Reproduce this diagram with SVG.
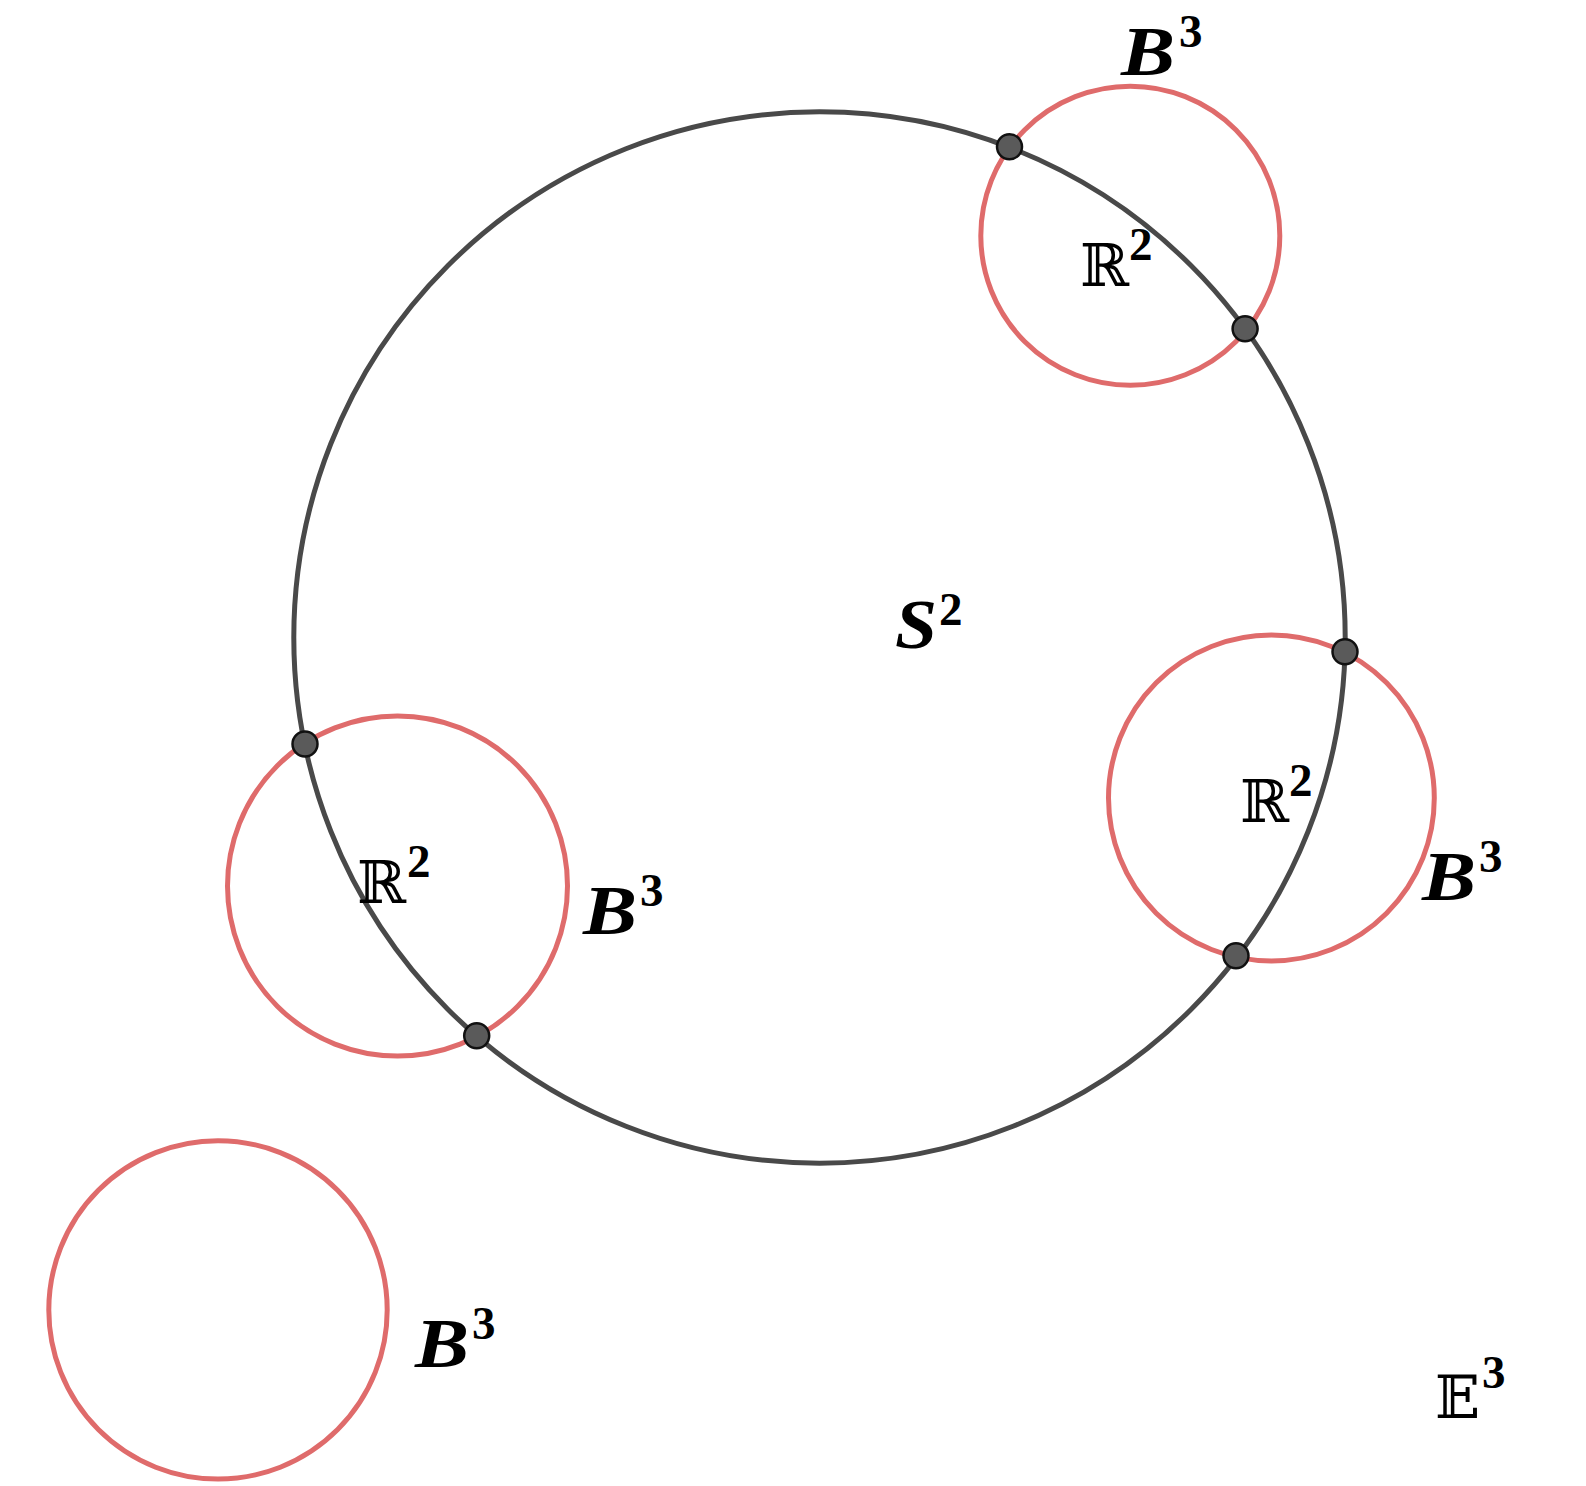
<svg xmlns="http://www.w3.org/2000/svg" width="1586" height="1486" viewBox="0 0 1586 1486">
<style>
.big{fill:none;stroke:#494949;stroke-width:5}
.red{fill:none;stroke:#df6b6b;stroke-width:5}
.pt{fill:#5a5a5a;stroke:#111;stroke-width:2.5}
.b{font-family:"Liberation Serif",serif;font-weight:bold;font-style:italic;font-size:69px;fill:#000}
.sup{font-family:"Liberation Serif",serif;font-weight:bold;font-size:47px;fill:#000}
.ds{font-family:"DejaVu Serif","DejaVu Sans",serif;font-size:59px;fill:#000}
</style>
<rect width="1586" height="1486" fill="#fff"/>
<g id="sphere"><circle class="big" cx="819.5" cy="637.5" r="525.7"/></g>
<g id="ball-top"><circle class="red" cx="1130.3" cy="235.7" r="149.5"/></g>
<g id="ball-left"><circle class="red" cx="397.5" cy="886" r="170"/></g>
<g id="ball-right"><circle class="red" cx="1271.4" cy="798" r="162.9"/></g>
<g id="ball-bottom"><circle class="red" cx="218" cy="1309.9" r="169.2"/></g>
<g id="points">
<circle class="pt" cx="1009.5" cy="146.7" r="12.5"/>
<circle class="pt" cx="1245.1" cy="328.7" r="12.5"/>
<circle class="pt" cx="1345" cy="651.7" r="12.5"/>
<circle class="pt" cx="1236" cy="955.8" r="12.5"/>
<circle class="pt" cx="305" cy="744" r="12.5"/>
<circle class="pt" cx="476.7" cy="1035.7" r="12.5"/>
</g>
<g id="labels">
<text class="b" x="1121" y="75" textLength="54" lengthAdjust="spacingAndGlyphs">B</text><text class="sup" x="1179" y="47">3</text>
<text class="ds" x="1080" y="286">ℝ</text><text class="sup" x="1129" y="260">2</text>
<text class="b" x="895" y="648" textLength="42" lengthAdjust="spacingAndGlyphs">S</text><text class="sup" x="939" y="625">2</text>
<text class="ds" x="1240" y="822">ℝ</text><text class="sup" x="1289" y="796">2</text>
<text class="b" x="1422" y="900" textLength="54" lengthAdjust="spacingAndGlyphs">B</text><text class="sup" x="1479" y="872">3</text>
<text class="ds" x="357" y="903">ℝ</text><text class="sup" x="407" y="877">2</text>
<text class="b" x="583" y="934" textLength="54" lengthAdjust="spacingAndGlyphs">B</text><text class="sup" x="640" y="906">3</text>
<text class="b" x="415" y="1367" textLength="54" lengthAdjust="spacingAndGlyphs">B</text><text class="sup" x="472" y="1339">3</text>
<text class="ds" x="1435" y="1418">𝔼</text><text class="sup" x="1482" y="1388">3</text>
</g>
</svg>
